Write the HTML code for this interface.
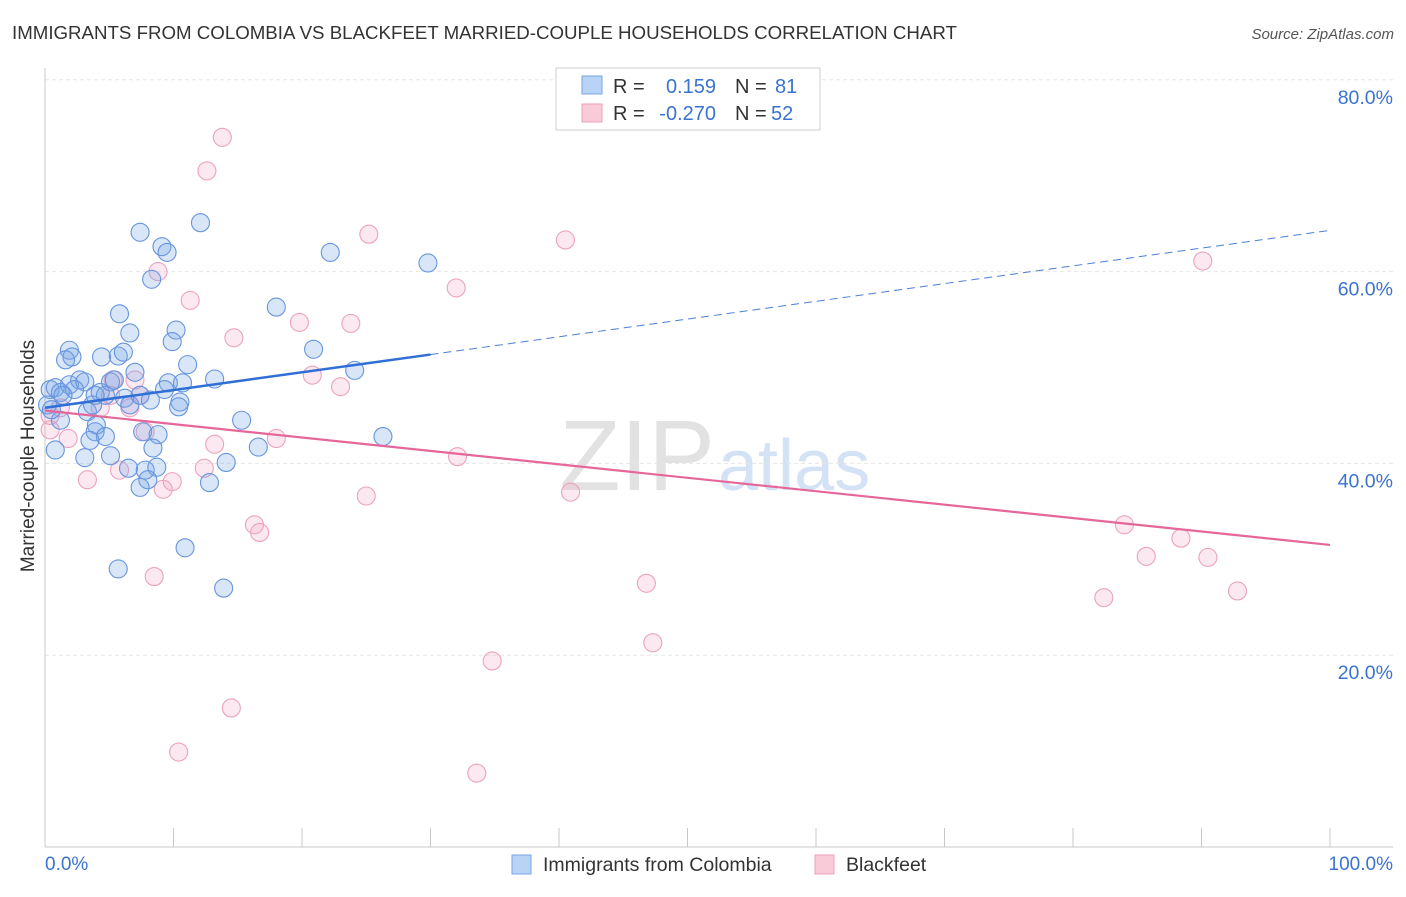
<!DOCTYPE html>
<html><head><meta charset="utf-8"><style>
body{margin:0;background:#fff;font-family:"Liberation Sans",sans-serif}
svg text{font-family:"Liberation Sans",sans-serif}
</style></head><body>
<svg width="1406" height="892" xmlns="http://www.w3.org/2000/svg">
<text x="12" y="39" font-size="18.7" fill="#333">IMMIGRANTS FROM COLOMBIA VS BLACKFEET MARRIED-COUPLE HOUSEHOLDS CORRELATION CHART</text>
<text x="1394" y="39" font-size="15" fill="#555" font-style="italic" text-anchor="end">Source: ZipAtlas.com</text>
<text x="715" y="490" font-size="100" fill="#e2e2e2" text-anchor="end" font-family="Liberation Serif">ZIP</text>
<text x="718" y="490" font-size="72" fill="#d3e2f4">atlas</text>
<g id="grid"></g><g id="axes"></g><g id="pts"></g><g id="lines"></g>
<text x="34" y="456" font-size="19" fill="#333" text-anchor="middle" transform="rotate(-90 34 456)">Married-couple Households</text>
<text x="45" y="870" font-size="19" fill="#3b73d0">0.0%</text>
<text x="1393" y="870" font-size="19" fill="#3b73d0" text-anchor="end">100.0%</text>
<g>
<rect x="556" y="68" width="264" height="62" fill="#fff" stroke="#ccc"/>
<rect x="582" y="76" width="20" height="18" fill="#b8d3f5" stroke="#7aa6e6"/>
<rect x="582" y="104" width="20" height="18" fill="#f9cbd9" stroke="#eaa0b8"/>
<text x="613" y="93" font-size="20" fill="#333">R =</text><text x="716" y="93" font-size="20" fill="#3b73d0" text-anchor="end">0.159</text>
<text x="735" y="93" font-size="20" fill="#333">N =</text><text x="775" y="93" font-size="20" fill="#3b73d0">81</text>
<text x="613" y="120" font-size="20" fill="#333">R =</text><text x="716" y="120" font-size="20" fill="#3b73d0" text-anchor="end">-0.270</text>
<text x="735" y="120" font-size="20" fill="#333">N =</text><text x="771" y="120" font-size="20" fill="#3b73d0">52</text>
</g>
<g>
<rect x="512" y="855" width="19" height="19" fill="#b8d3f5" stroke="#7aa6e6"/>
<text x="543" y="871" font-size="19.5" fill="#333">Immigrants from Colombia</text>
<rect x="815" y="855" width="19" height="19" fill="#f9cbd9" stroke="#eaa0b8"/>
<text x="846" y="871" font-size="19.5" fill="#333">Blackfeet</text>
</g>
</svg>
<script>
const yTicks=[20,40,60,80];
const blueX=[7.4,12.1,9.1,9.5,8.3,22.2,29.8,18.0,5.8,6.6,10.2,9.9,20.9,1.9,2.1,1.6,4.4,5.7,6.1,11.1,7.0,24.1,13.2,0.4,0.8,1.2,1.9,2.7,3.1,2.3,4.3,4.7,5.1,6.2,6.6,9.6,10.7,9.3,10.5,10.4,3.3,3.7,4.0,3.9,4.7,7.6,8.8,1.2,0.8,3.5,3.1,5.1,8.4,15.3,16.6,14.1,6.5,7.8,8.7,8.0,7.4,12.8,26.3,5.7,10.9,13.9,0.2,0.5,1.4,3.9,5.4,7.4,8.2];
const blueY=[64.1,65.1,62.6,62.0,59.2,62.0,60.9,56.3,55.6,53.6,53.9,52.7,51.9,51.8,51.1,50.8,51.1,51.2,51.6,50.3,49.5,49.7,48.8,47.7,47.9,47.4,48.2,48.7,48.5,47.7,47.4,47.1,48.5,46.8,46.1,48.4,48.4,47.7,46.4,45.9,45.4,46.1,44.0,43.3,42.8,43.3,43.0,44.5,41.4,42.4,40.6,40.8,41.6,44.5,41.7,40.1,39.5,39.3,39.6,38.3,37.5,38.0,42.8,29.0,31.2,27.0,46.1,45.6,47.1,47.1,48.7,47.1,46.6];
const pinkX=[13.8,12.6,25.2,40.5,90.1,8.8,11.3,32.0,19.8,23.8,14.7,20.8,23.0,5.3,7.4,6.6,4.3,1.2,0.4,1.8,7.8,13.2,18.0,32.1,3.3,5.8,12.4,9.9,9.2,25.0,40.9,16.3,16.7,8.5,46.8,84.0,85.7,88.4,90.5,82.4,92.8,47.3,34.8,14.5,10.4,33.6,0.4,5.1,7.0];
const pinkY=[74.0,70.5,63.9,63.3,61.1,60.0,57.0,58.3,54.7,54.6,53.1,49.2,48.0,48.7,47.1,45.8,45.8,45.8,43.5,42.6,43.3,42.0,42.6,40.7,38.3,39.3,39.5,38.1,37.3,36.6,37.0,33.6,32.8,28.2,27.5,33.6,30.3,32.2,30.2,26.0,26.7,21.3,19.4,14.5,9.9,7.7,45.0,47.1,48.7];
const blueTrend=[45.8,64.3];
const pinkTrend=[45.5,31.5];
const blueSolidEnd=30;
const NS="http://www.w3.org/2000/svg";
const sx=v=>45+v*12.85, sy=v=>847-v*9.59;
function mk(t,a,p){const e=document.createElementNS(NS,t);for(const k in a)e.setAttribute(k,a[k]);p.appendChild(e);return e;}
const grid=document.getElementById('grid'),axes=document.getElementById('axes'),pts=document.getElementById('pts'),lines=document.getElementById('lines');
yTicks.forEach(t=>{
const l=mk('line',{x1:45,x2:1393,y1:sy(t),y2:sy(t),stroke:'#e6e6e6','stroke-dasharray':'4 3'},grid);


const tx=mk('text',{x:1393,y:sy(t)+24,'font-size':19.5,fill:'#3b73d0','text-anchor':'end'},grid);
tx.textContent=t.toFixed(1)+'%';


});
const ax=mk('line',{x1:45,x2:45,y1:68,y2:847,stroke:'#c8c8c8'},axes);


const bx=mk('line',{x1:45,x2:1393,y1:847,y2:847,stroke:'#c8c8c8'},axes);


for(let i=0;i<=10;i++){
const tk=mk('line',{x1:sx(i*10),x2:sx(i*10),y1:828,y2:847,stroke:'#c8c8c8'},axes);


}
function drawPts(X,Y,fill,stroke,name){X.forEach((x,i)=>{
const c=mk('circle',{cx:sx(x),cy:sy(Y[i]),r:9,fill:fill,stroke:stroke,'stroke-width':1.1},pts);


});}
drawPts(pinkX,pinkY,'rgba(244,165,195,0.25)','#eca2bd','blackfeet-point');
drawPts(blueX,blueY,'rgba(120,165,230,0.28)','#6695dd','colombia-point');
const by=x=>blueTrend[0]+(blueTrend[1]-blueTrend[0])*x/100;
const b1=mk('line',{x1:sx(0),y1:sy(by(0)),x2:sx(blueSolidEnd),y2:sy(by(blueSolidEnd)),stroke:'#2f6fd6','stroke-width':2.5},lines);


const b2=mk('line',{x1:sx(blueSolidEnd),y1:sy(by(blueSolidEnd)),x2:sx(100),y2:sy(by(100)),stroke:'#4a7fd8','stroke-width':1,'stroke-dasharray':'8 5'},lines);


const p1=mk('line',{x1:sx(0),y1:sy(pinkTrend[0]),x2:sx(100),y2:sy(pinkTrend[1]),stroke:'#e5679a','stroke-width':2.2},lines);


</script>
</body></html>
